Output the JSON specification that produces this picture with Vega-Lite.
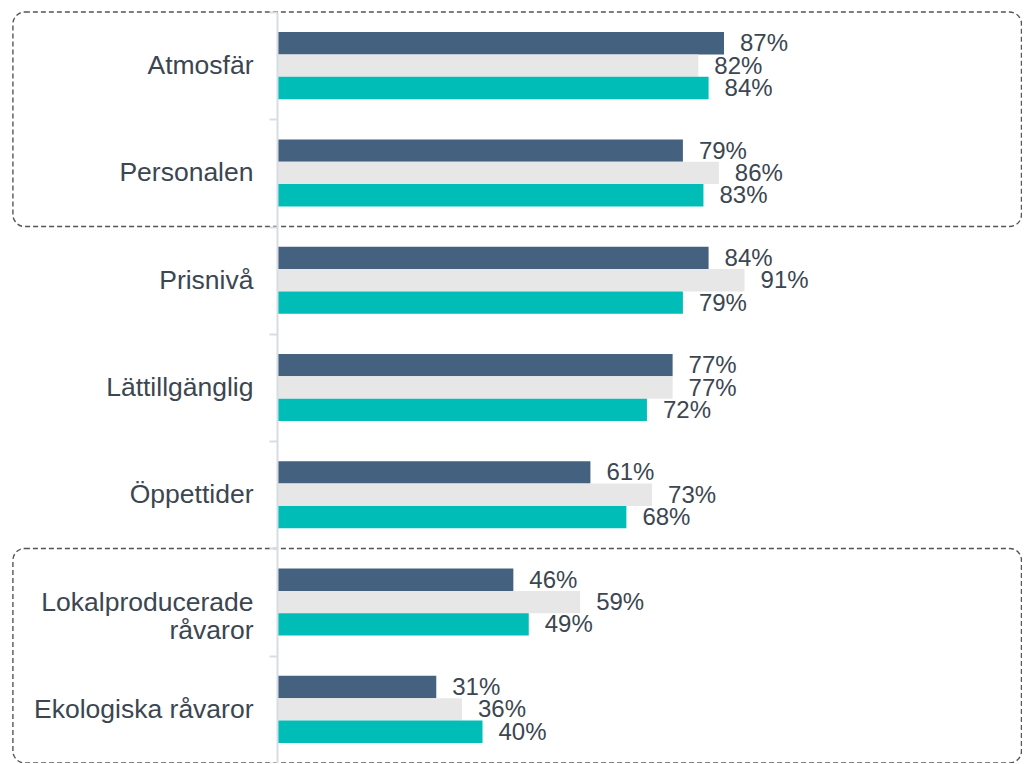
{
  "$schema": "https://vega.github.io/schema/vega-lite/v6.json",
  "width": 745,
  "height": 751,
  "autosize": {"type": "none"},
  "padding": {"left": 277, "top": 12, "right": 0, "bottom": 0},
  "background": "#ffffff",
  "config": {"view": {"stroke": null}, "font": "Liberation Sans"},
  "data": {"values": [
      {"kategori": "Atmosfär", "serie": "Serie 1", "andel": 0.87},
      {"kategori": "Atmosfär", "serie": "Serie 2", "andel": 0.82},
      {"kategori": "Atmosfär", "serie": "Serie 3", "andel": 0.84},
      {"kategori": "Personalen", "serie": "Serie 1", "andel": 0.79},
      {"kategori": "Personalen", "serie": "Serie 2", "andel": 0.86},
      {"kategori": "Personalen", "serie": "Serie 3", "andel": 0.83},
      {"kategori": "Prisnivå", "serie": "Serie 1", "andel": 0.84},
      {"kategori": "Prisnivå", "serie": "Serie 2", "andel": 0.91},
      {"kategori": "Prisnivå", "serie": "Serie 3", "andel": 0.79},
      {"kategori": "Lättillgänglig", "serie": "Serie 1", "andel": 0.77},
      {"kategori": "Lättillgänglig", "serie": "Serie 2", "andel": 0.77},
      {"kategori": "Lättillgänglig", "serie": "Serie 3", "andel": 0.72},
      {"kategori": "Öppettider", "serie": "Serie 1", "andel": 0.61},
      {"kategori": "Öppettider", "serie": "Serie 2", "andel": 0.73},
      {"kategori": "Öppettider", "serie": "Serie 3", "andel": 0.68},
      {"kategori": "Lokalproducerade råvaror", "serie": "Serie 1", "andel": 0.46},
      {"kategori": "Lokalproducerade råvaror", "serie": "Serie 2", "andel": 0.59},
      {"kategori": "Lokalproducerade råvaror", "serie": "Serie 3", "andel": 0.49},
      {"kategori": "Ekologiska råvaror", "serie": "Serie 1", "andel": 0.31},
      {"kategori": "Ekologiska råvaror", "serie": "Serie 2", "andel": 0.36},
      {"kategori": "Ekologiska råvaror", "serie": "Serie 3", "andel": 0.40}
  ]},
  "encoding": {
    "y": {
      "field": "kategori", "type": "nominal",
      "sort": ["Atmosfär", "Personalen", "Prisnivå", "Lättillgänglig", "Öppettider", "Lokalproducerade råvaror", "Ekologiska råvaror"],
      "scale": {"paddingInner": 0, "paddingOuter": 0},
      "axis": {
        "title": null,
        "domainColor": "#d8dde3", "domainWidth": 2,
        "tickColor": "#d8dde3", "tickWidth": 2, "tickSize": 8, "tickBand": "extent",
        "labelFont": "Liberation Sans", "labelFontSize": 26.5, "labelColor": "#3b4651",
        "labelPadding": 16, "labelLimit": 400, "labelLineHeight": 28,
        "labelExpr": "datum.value == 'Lokalproducerade råvaror' ? ['Lokalproducerade', 'råvaror'] : datum.label"
      }
    }
  },
  "layer": [
    {
      "data": {"values": [
        {"kategori": "Atmosfär", "slut": "Personalen"},
        {"kategori": "Lokalproducerade råvaror", "slut": "Ekologiska råvaror"}
      ]},
      "mark": {"type": "rect", "filled": false, "stroke": "#555555", "strokeWidth": 1.4, "strokeDash": [5, 3], "cornerRadius": 12, "clip": false},
      "encoding": {
        "y": {"field": "kategori", "type": "nominal", "bandPosition": 0},
        "y2": {"field": "slut", "bandPosition": 1},
        "x": {"datum": -0.514, "type": "quantitative", "scale": {"domain": [0, 1.45], "nice": false}, "axis": null},
        "x2": {"datum": 1.449},
        "color": {"value": "#555555"}
      }
    },
    {
      "mark": {"type": "bar"},
      "encoding": {
        "x": {"field": "andel", "type": "quantitative", "scale": {"domain": [0, 1.45], "nice": false}, "axis": null},
        "yOffset": {"field": "serie", "type": "nominal", "sort": ["Serie 1", "Serie 2", "Serie 3"], "scale": {"paddingInner": 0, "paddingOuter": 0.9}},
        "color": {"field": "serie", "type": "nominal", "scale": {"domain": ["Serie 1", "Serie 2", "Serie 3"], "range": ["#44617f", "#e7e7e7", "#00bdb8"]}, "legend": null}
      }
    },
    {
      "mark": {"type": "text", "align": "left", "baseline": "middle", "dx": 16, "dy": 1, "fontSize": 24, "font": "Liberation Sans", "color": "#3b4651"},
      "encoding": {
        "x": {"field": "andel", "type": "quantitative"},
        "yOffset": {"field": "serie", "type": "nominal", "sort": ["Serie 1", "Serie 2", "Serie 3"]},
        "text": {"field": "andel", "type": "quantitative", "format": ".0%"}
      }
    }
  ]
}
